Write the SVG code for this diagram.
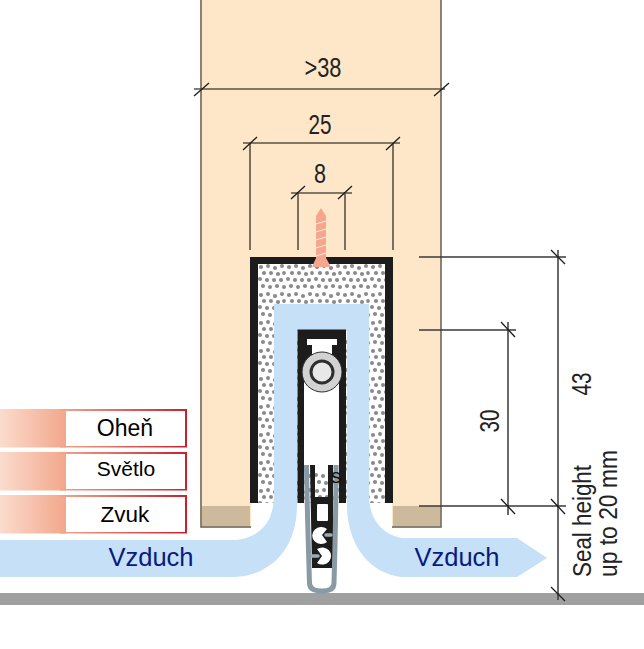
<svg xmlns="http://www.w3.org/2000/svg" width="644" height="649" viewBox="0 0 644 649">
<style>
.dim{fill:none;stroke:#5b5242;stroke-width:1.6}
.dimk{fill:none;stroke:#3a3a3a;stroke-width:1.5}
.tick{fill:none;stroke:#1c1c1c;stroke-width:1.3}
.num{font-family:"Liberation Sans",sans-serif;font-size:28px;fill:#222;text-anchor:middle}
.long{font-family:"Liberation Sans",sans-serif;font-size:26px;fill:#222}
.lab{font-family:"Liberation Sans",Arial,sans-serif;fill:#000;text-anchor:middle}
.air{font-family:"Liberation Sans",Arial,sans-serif;font-size:25.500px;fill:#0a1a80;text-anchor:middle}
.blue{fill:#c5e0f7}
.blk{fill:#1c1c1c}
.wood{fill:#fee6c8;stroke:#6e6758;stroke-width:1.6}
.tan{fill:#cdb99b}
</style>
<defs>
<linearGradient id="fade" x1="0" x2="66" y1="0" y2="0" gradientUnits="userSpaceOnUse"><stop offset="0" stop-color="#fbdccd"/><stop offset="1" stop-color="#f2a78c"/></linearGradient>
<linearGradient id="edge" x1="60" x2="187" y1="0" y2="0" gradientUnits="userSpaceOnUse"><stop offset="0" stop-color="#f2a78c"/><stop offset="1" stop-color="#c9202c"/></linearGradient>
<pattern id="dots" width="28" height="28" patternUnits="userSpaceOnUse" x="258" y="264">
<rect width="28" height="28" fill="#fff"/>
<g fill="#8a8a8a">
<circle cx="3" cy="3" r="2.100"/><circle cx="10" cy="2" r="2"/><circle cx="17" cy="4" r="2.100"/><circle cx="24" cy="2" r="2"/>
<circle cx="6" cy="9" r="2.100"/><circle cx="13" cy="9" r="2"/><circle cx="20" cy="10" r="2.100"/><circle cx="26" cy="9" r="1.900"/>
<circle cx="2" cy="15" r="2"/><circle cx="9" cy="16" r="2.100"/><circle cx="16" cy="16" r="2"/><circle cx="23" cy="16" r="2.100"/>
<circle cx="5" cy="22" r="2.100"/><circle cx="12" cy="23" r="2"/><circle cx="19" cy="22" r="2.100"/><circle cx="26" cy="23" r="2"/>
</g>
</pattern>
</defs>

<g id="door">
<rect class="wood" x="201" y="-2" width="240" height="529"/>
<rect class="tan" x="202" y="506" width="48" height="20"/>
<rect class="tan" x="393" y="506" width="47" height="20"/>
<rect x="251" y="500" width="141" height="30" fill="#fff"/>
</g>

<g id="floor"><rect x="0" y="593" width="644" height="12" fill="#a0a0a0"/></g>

<g id="channel">
<rect x="258" y="264" width="127" height="239" fill="url(#dots)"/>
<path class="blk" d="M250 257H393V503H385V264H258V503H250Z"/>
</g>

<g id="airflow">
<path class="blue" d="M274 304H369V495C369 522 385 535 402 538H517L547 558L517 577H402C370 574 347 545 347 505V330H297V505C297 548 272 575 235 577H0V540H235C258 538 274 524 274 495Z"/>
<text class="air" x="151" y="566">Vzduch</text>
<text class="air" x="457" y="566">Vzduch</text>
</g>

<g id="screw">
<path fill="#f4a68e" d="M321 208L326 216V258L331 267H312L316 258V216Z"/>
<path fill="none" stroke="#fde3d5" stroke-width="1.200" d="M316 224L326 221M316 232L326 229M316 240L326 237M316 248L326 245M316 256L326 253"/>
</g>

<g id="profile">
<path class="blk" d="M297.500 329.500H346V503H339V372H304V503H297.500Z"/>
<path class="blk" d="M304 338H339V372H304Z"/>
<path fill="#fff" d="M307 339H337V345H332V356H312V345H307Z"/>
<rect x="304" y="372" width="35" height="100" fill="#fff"/>
<circle cx="322" cy="372" r="20" fill="#d2d2d2" stroke="#2c2c2c" stroke-width="1"/>
<circle cx="322" cy="372" r="11" fill="#e8e8e8" stroke="#2e2e2e" stroke-width="3"/>
</g>

<g id="seal">
<path class="blk" d="M310 465H315V497H328V465H333V568H312Z"/>
<rect x="317" y="504" width="11" height="17" rx="1" fill="#fff"/>
<path fill="#fff" d="M327 529A9 8.500 0 1 0 327 542L322 535Z"/>
<path fill="#fff" d="M317 549A9 8.500 0 1 1 317 563L322 556Z"/>
<path fill="none" stroke="#9cacb6" stroke-width="3.500" stroke-linecap="round" d="M326 535H331M318 556H312"/>
<path fill="none" stroke="#8a9aa5" stroke-width="5" d="M306.500 465C307 505 308.500 550 309.500 583C309.500 590 316 591 322 591C328 591 334 590 334 583C335 550 336 505 336 465"/>
<text x="336" y="483" font-family="Liberation Sans,sans-serif" font-size="21" fill="#111" text-anchor="middle">s</text>
</g>

<g id="row-ohen">
<rect x="0" y="409" width="66" height="38.500" fill="url(#fade)"/>
<path fill="none" stroke="url(#edge)" stroke-width="2" d="M60 410H186V446.500H60"/>
<rect x="66" y="411" width="119" height="35" fill="#fff"/>
<text class="lab" x="125" y="436" font-size="23">Oheň</text>
</g>
<g id="row-svetlo">
<rect x="0" y="452" width="66" height="38.500" fill="url(#fade)"/>
<path fill="none" stroke="url(#edge)" stroke-width="2" d="M60 453H186V489.500H60"/>
<rect x="66" y="454" width="119" height="35" fill="#fff"/>
<text class="lab" x="126" y="476" font-size="21">Světlo</text>
</g>
<g id="row-zvuk">
<rect x="0" y="495" width="66" height="38.500" fill="url(#fade)"/>
<path fill="none" stroke="url(#edge)" stroke-width="2" d="M60 496H186V532.500H60"/>
<rect x="66" y="497" width="119" height="35" fill="#fff"/>
<text class="lab" x="125" y="522" font-size="22.500">Zvuk</text>
</g>

<g id="connectors">
<path class="dim" d="M194 89H445"/>
<path class="tick" d="M194 96L209 83M434 96L449 83"/>
<path class="dim" d="M243 143H400M250 143V250M393 143V250"/>
<path class="tick" d="M243 150L257 137M386 150L400 137"/>
<path class="dim" d="M291 193H352M298 193V250M345 193V250"/>
<path class="tick" d="M291 199L305 186M338 199L352 186"/>
<path class="dimk" d="M419 257H566M419 330H516M419 506H566M508 322V515M558 250V600"/>
<path class="tick" d="M551 250L565 264M501 322L515 337M501 499L515 514M551 499L565 514M551 587L565 601"/>
</g>

<g id="dimension-labels">
<text class="num" x="323" y="77" textLength="37" lengthAdjust="spacingAndGlyphs">&gt;38</text>
<text class="num" x="320" y="134" textLength="23" lengthAdjust="spacingAndGlyphs">25</text>
<text class="num" x="320" y="183" textLength="12" lengthAdjust="spacingAndGlyphs">8</text>
<text class="num" transform="translate(499 421) rotate(-90)" textLength="23" lengthAdjust="spacingAndGlyphs">30</text>
<text class="num" transform="translate(591 384) rotate(-90)" textLength="23" lengthAdjust="spacingAndGlyphs">43</text>
<text class="long" transform="translate(591 577) rotate(-90)" textLength="112" lengthAdjust="spacingAndGlyphs">Seal height</text>
<text class="long" transform="translate(617 577) rotate(-90)" textLength="127" lengthAdjust="spacingAndGlyphs">up to 20 mm</text>
</g>
</svg>
